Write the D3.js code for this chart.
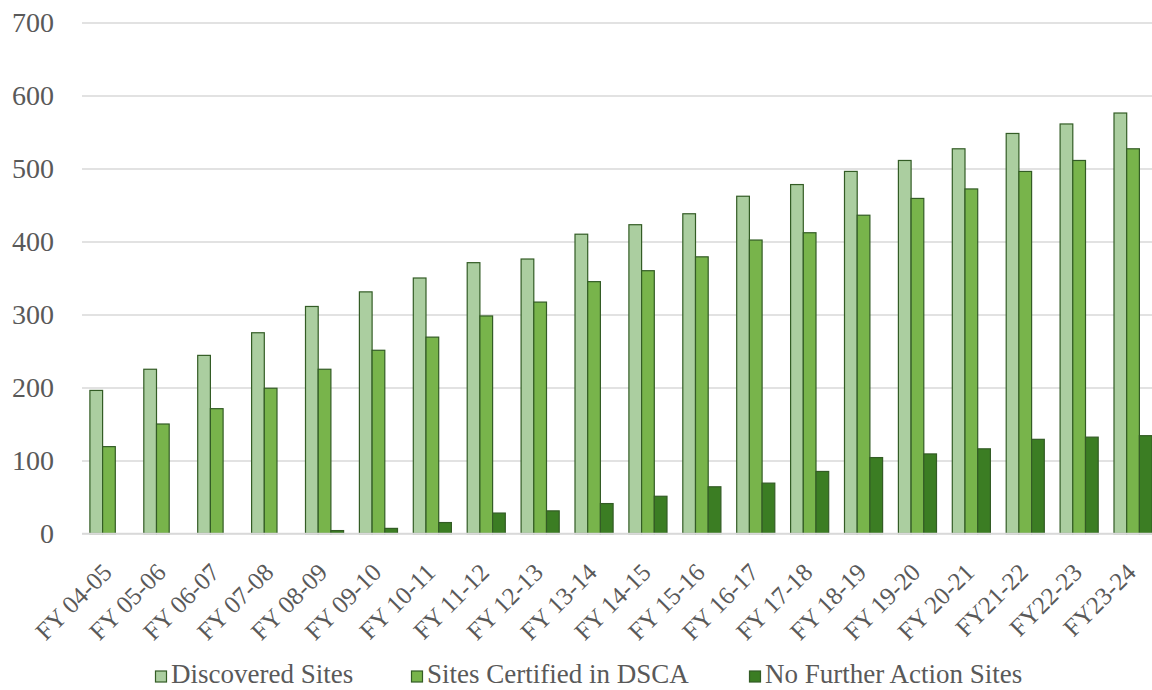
<!DOCTYPE html>
<html>
<head>
<meta charset="utf-8">
<script src="https://cdn.jsdelivr.net/npm/d3@7"></script>
<style>
  html, body { margin: 0; padding: 0; background: #fff; }
  svg { display: block; }
  svg text { font-family: "Liberation Serif", "DejaVu Serif", "Noto Serif", "Times New Roman", Times, serif !important; fill: #595959; }
</style>
</head>
<body>
<svg id="chart" width="1152" height="690"></svg>
<script>
const categories = ["FY 04-05","FY 05-06","FY 06-07","FY 07-08","FY 08-09","FY 09-10","FY 10-11","FY 11-12","FY 12-13","FY 13-14","FY 14-15","FY 15-16","FY 16-17","FY 17-18","FY 18-19","FY 19-20","FY 20-21","FY21-22","FY22-23","FY23-24"];
const discovered = [196,225,244,275,311,331,350,371,376,410,423,438,462,478,496,511,527,548,561,576];
const certified  = [119,150,171,199,225,251,269,298,317,345,360,379,402,412,436,459,472,496,511,527];
const noFurther  = [0,0,0,0,4,7,15,28,31,41,51,64,69,85,104,109,116,129,132,134];
const seriesNames = ["Discovered Sites","Sites Certified in DSCA","No Further Action Sites"];
const yTicks = [0,100,200,300,400,500,600,700];

const colors = ["#abcea0","#78b44b","#3b7d23"];
const strokeColor = "#335c25";

const svg = d3.select("#chart");
const plotLeft = 82, plotRight = 1160, plotTop = 22.5, plotBottom = 533.5;

const x = d3.scaleBand().domain(categories).range([plotLeft, plotRight]).paddingInner(0).paddingOuter(0);
const y = d3.scaleLinear().domain([0, 700]).range([plotBottom, plotTop]);

// gridlines
const yAxis = d3.axisLeft(y).tickValues(yTicks).tickSize(-(1152 - plotLeft)).tickFormat(d3.format("d"));
const gy = svg.append("g").attr("transform", `translate(${plotLeft},0)`).call(yAxis);
gy.attr("font-family", null);
gy.select(".domain").remove();
gy.selectAll(".tick line").attr("stroke", "#d9d9d9").attr("stroke-width", 1.4);
gy.selectAll(".tick text").attr("x", -28).attr("font-size", 28).attr("fill", "#595959");

// bars
const data = [discovered, certified, noFurther];
const step = x.bandwidth();
const barW = 12.7;
const groupW = barW * 3;
data.forEach((vals, si) => {
  svg.append("g").selectAll("rect")
    .data(vals)
    .join("rect")
    .attr("x", (d, i) => x(categories[i]) + (step - groupW) / 2 + si * barW)
    .attr("y", d => y(d))
    .attr("width", barW)
    .attr("height", d => y(0) - y(d))
    .attr("fill", colors[si])
    .attr("stroke", strokeColor)
    .attr("stroke-width", d => d > 0 ? 1.2 : 0);
});

// x axis line
svg.append("line").attr("x1", plotLeft).attr("x2", 1152).attr("y1", y(0)).attr("y2", y(0))
  .attr("stroke", "#d9d9d9").attr("stroke-width", 1.4);

// x labels
const xAxis = d3.axisBottom(x).tickSize(0).tickPadding(0);
const gx = svg.append("g").attr("transform", `translate(0,${plotBottom})`).call(xAxis);
gx.attr("font-family", null);
gx.select(".domain").remove();
gx.selectAll(".tick text")
  .attr("font-size", 25)
  .attr("fill", "#595959")
  .attr("text-anchor", "end")
  .attr("y", 0).attr("dy", "0.7em")
  .attr("transform", "translate(-8,28) rotate(-45)");

// legend
const legendX = [155, 411, 749];
seriesNames.forEach((name, i) => {
  const g = svg.append("g").attr("transform", `translate(${legendX[i]},0)`);
  g.append("rect").attr("x", 0.5).attr("y", 671).attr("width", 11).attr("height", 11)
    .attr("fill", colors[i]).attr("stroke", strokeColor).attr("stroke-width", 1.2);
  g.append("text").attr("x", 16).attr("y", 683).attr("font-size", 27).text(name);
});
</script>
</body>
</html>
